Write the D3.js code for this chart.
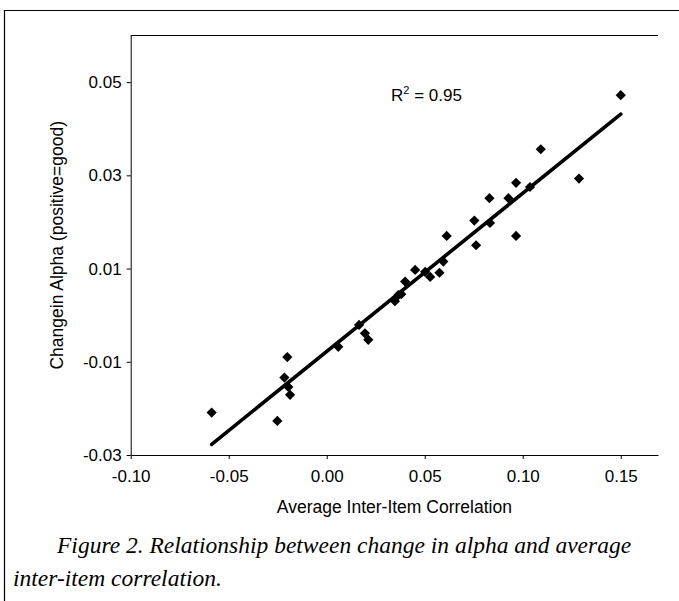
<!DOCTYPE html>
<html>
<head>
<meta charset="utf-8">
<script src="https://cdn.jsdelivr.net/npm/d3@7"></script>
<style>
  body { margin: 0; background: #fff; }
  svg text { font-family: "Liberation Sans", Arial, sans-serif; fill: #000; }
</style>
</head>
<body>
<div id="chart"></div>
<script>
// values
var interItemCorr = [-0.0587, -0.0252, -0.0201, -0.0216, -0.0196, -0.0187, 0.0059, 0.0165, 0.0195, 0.0212,
  0.0348, 0.0365, 0.0380, 0.0400, 0.0451, 0.0502, 0.0528, 0.0575, 0.0595, 0.0612,
  0.0762, 0.0753, 0.0833, 0.0966, 0.0830, 0.0927, 0.0966, 0.1037, 0.1092, 0.1287, 0.1500];
var alphaChange = [-0.0209, -0.0227, -0.0090, -0.0134, -0.0154, -0.0171, -0.0068, -0.0021, -0.0039, -0.0053,
  0.0030, 0.0043, 0.0045, 0.0072, 0.0097, 0.0093, 0.0082, 0.0091, 0.0115, 0.0170,
  0.0150, 0.0203, 0.0198, 0.0170, 0.0251, 0.0251, 0.0284, 0.0275, 0.0356, 0.0293, 0.0472];
var xTickValues = [-0.10, -0.05, 0.00, 0.05, 0.10, 0.15];
var yTickValues = [-0.03, -0.01, 0.01, 0.03, 0.05];
var rSquared = "0.95";
var xTitle = "Average Inter-Item Correlation";
var yTitle = "Changein Alpha (positive=good)";
var captionLines = ["Figure 2. Relationship between change in alpha and average", "inter-item correlation."];

var svgWidth = 679, svgHeight = 601;

var svg = d3.select("#chart").append("svg")
  .attr("width", svgWidth)
  .attr("height", svgHeight);

var points = interItemCorr.map(function(d, i) { return { x: d, y: alphaChange[i] }; });

// scales
var xScale = d3.scaleLinear().domain([-0.10, 0.169]).range([130.7, 658]);
var yScale = d3.scaleLinear().domain([-0.03, 0.06]).range([455, 35.5]);

// outer frame of the figure (top and left only survive in the scan)
svg.append("path")
  .attr("d", "M4.5,601V10.5H679")
  .attr("fill", "none")
  .attr("stroke", "#000")
  .attr("stroke-width", 1.2);

// top edge of plot area
svg.append("line")
  .attr("x1", xScale.range()[0]).attr("x2", xScale.range()[1])
  .attr("y1", yScale.range()[1]).attr("y2", yScale.range()[1])
  .attr("stroke", "#000");

// axes
var fmt = function(d) { return d.toFixed(2); };

var xAxisG = svg.append("g")
  .attr("transform", "translate(0," + yScale.range()[0] + ")")
  .call(d3.axisBottom(xScale).tickValues(xTickValues).tickFormat(fmt)
    .tickSizeInner(4).tickSizeOuter(0).tickPadding(11));

var yAxisG = svg.append("g")
  .attr("transform", "translate(" + xScale.range()[0] + ",0)")
  .call(d3.axisLeft(yScale).tickValues(yTickValues).tickFormat(fmt)
    .tickSizeInner(4).tickSizeOuter(0).tickPadding(5));

[xAxisG, yAxisG].forEach(function(g) {
  g.attr("font-family", null).attr("font-size", null);
  g.selectAll("text").style("font-size", "17px");
  g.selectAll("path, line").attr("stroke", "#000");
});

// least squares trendline over the data range
var mx = d3.mean(points, d => d.x), my = d3.mean(points, d => d.y);
var sxy = d3.sum(points, d => (d.x - mx) * (d.y - my));
var sxx = d3.sum(points, d => (d.x - mx) * (d.x - mx));
var slope = sxy / sxx, intercept = my - slope * mx;
var xExt = d3.extent(points, d => d.x);

svg.append("path")
  .datum(xExt)
  .attr("d", d3.line().x(d => xScale(d)).y(d => yScale(intercept + slope * d)))
  .attr("stroke", "#000")
  .attr("stroke-width", 3.6)
  .attr("stroke-linecap", "round")
  .attr("fill", "none");

// diamond markers
svg.selectAll(".pt")
  .data(points)
  .enter()
  .append("path")
  .attr("class", "pt")
  .attr("d", d3.symbol(d3.symbolSquare, 52))
  .attr("transform", d => "translate(" + xScale(d.x) + "," + yScale(d.y) + ") rotate(45)")
  .attr("fill", "#000");

// R squared label
var r2 = svg.append("text")
  .attr("x", 391)
  .attr("y", 101)
  .style("font-size", "17px");
r2.append("tspan").text("R");
r2.append("tspan").attr("dy", -7).style("font-size", "11px").text("2");
r2.append("tspan").attr("dy", 7).text(" = " + rSquared);

// axis titles
svg.append("text")
  .attr("x", (xScale.range()[0] + xScale.range()[1]) / 2)
  .attr("y", 513)
  .attr("text-anchor", "middle")
  .style("font-size", "17.5px")
  .text(xTitle);

svg.append("text")
  .attr("transform", "translate(63," + (yScale.range()[0] + yScale.range()[1]) / 2 + ") rotate(-90)")
  .attr("text-anchor", "middle")
  .style("font-size", "17.5px")
  .text(yTitle);

// caption
function caption(txt, x, y) {
  svg.append("text")
    .attr("x", x)
    .attr("y", y)
    .style("font-family", "'Liberation Serif', 'DejaVu Serif', serif")
    .style("font-style", "italic")
    .style("font-size", "23.5px")
    .text(txt);
}
caption(captionLines[0], 57, 553);
caption(captionLines[1], 13, 586);
</script>
</body>
</html>
